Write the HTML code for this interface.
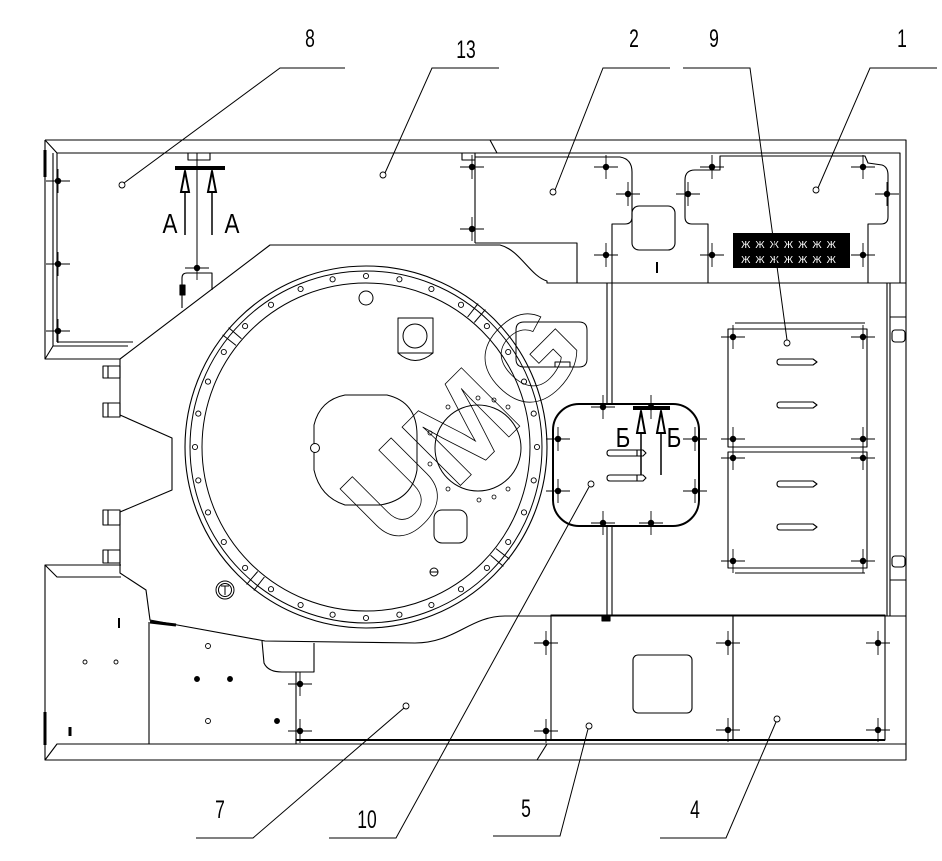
<!DOCTYPE html>
<html><head><meta charset="utf-8"><style>
html,body{margin:0;padding:0;background:#fff;}
svg{display:block;}
text{font-family:"Liberation Sans",sans-serif;fill:#000;}
</style></head><body>
<svg width="942" height="861" viewBox="0 0 942 861" xmlns="http://www.w3.org/2000/svg">
<defs>
<g id="b"><line x1="-12" y1="0" x2="12" y2="0" stroke="#000" stroke-width="0.9"/><line x1="0" y1="-12" x2="0" y2="12" stroke="#000" stroke-width="0.9"/><circle r="3.2" fill="#000"/></g>
</defs>
<rect width="942" height="861" fill="#fff"/>
<g stroke="#000" fill="none" stroke-width="1.1" stroke-linejoin="round">
<!-- outer frame -->
<path d="M45,140 L906,140 L906,760 L45,760 L45,565 L121,565"/>
<path d="M45,140 L45,359 L120,359"/>
<path d="M45,140 L57,153 L900,153 L900,283"/>
<line x1="53" y1="153" x2="53" y2="346"/>
<line x1="57" y1="153" x2="57" y2="342"/>
<path d="M57,342 L133,342"/><path d="M53,346 L128,346"/>
<path d="M45,359 L53,346"/>
<line x1="45" y1="150" x2="45" y2="177" stroke-width="3"/>
<line x1="490" y1="140" x2="497" y2="153"/>
<!-- lower left box -->
<path d="M45,565 L57,577 L121,577"/>
<path d="M45,760 L57,744 L906,744"/>
<line x1="45" y1="712" x2="45" y2="745" stroke-width="3"/>
<line x1="149" y1="622" x2="149" y2="744"/>
<line x1="547" y1="744" x2="537" y2="760"/>
<!-- body -->
<path d="M120,359 L120,415 L172,438 L172,490 L120,512 L120,573 L146,590 L150,620 L265,641 L415,643 C455,643 470,616 505,616 L906,616"/>
<path d="M120,359 L270,245 L500,245 C520,250 530,276 547,281 L547,283 L906,283"/>
<line x1="150" y1="622" x2="176" y2="625" stroke-width="3"/>
<!-- lugs -->
<rect x="103" y="366" width="17" height="12"/><line x1="108" y1="366" x2="108" y2="378"/>
<rect x="103" y="403" width="17" height="14"/><line x1="108" y1="403" x2="108" y2="417"/>
<rect x="103" y="510" width="17" height="15"/><line x1="108" y1="510" x2="108" y2="525"/>
<rect x="103" y="550" width="17" height="13"/><line x1="108" y1="550" x2="108" y2="563"/>
<!-- panel 13 / 2 -->
<line x1="475" y1="153" x2="475" y2="243"/>
<path d="M475,243 L577,243 L577,283"/>
<path d="M462,153 L462,160 L475,160"/>
<rect x="188" y="153" width="22" height="7"/>
<path d="M182,308 L182,278 Q182,273 187,273 L212,273 L212,290"/>
<line x1="197" y1="153" x2="197" y2="268" stroke-width="1"/>
<rect x="180" y="285" width="5" height="10" fill="#000"/>
<path d="M475,157 L620,157 Q632,159 632,172 L632,217 Q632,224 625,224 L612,224 L612,283"/>
<rect x="632" y="206" width="43" height="44" rx="7"/>
<line x1="657" y1="262" x2="657" y2="273" stroke-width="2"/>
<path d="M708,283 L708,224 L692,224 Q685,224 685,217 L685,180 Q685,170 695,170 L720,170 L720,156 L865,156 L868,163 L882,165 Q888,167 888,175 L888,217 Q888,224 881,224 L868,224 L868,283"/>
<!-- right frame -->
<line x1="887" y1="283" x2="887" y2="616"/>
<line x1="890" y1="283" x2="890" y2="616"/>
<rect x="892" y="330" width="13" height="12" rx="3"/>
<rect x="892" y="556" width="13" height="11" rx="3"/>
<line x1="890" y1="317" x2="906" y2="317" stroke-width="1"/>
<line x1="890" y1="580" x2="906" y2="580" stroke-width="1"/>
<!-- vertical double -->
<line x1="607" y1="283" x2="607" y2="404"/><line x1="612" y1="283" x2="612" y2="404"/>
<line x1="607" y1="526" x2="607" y2="616"/><line x1="612" y1="526" x2="612" y2="616"/>
<!-- cover part near circle -->
<path d="M524,322 L579,322 Q587,322 587,330 L587,359 Q587,367 579,367 L524,367 Q516,367 516,359 L516,330 Q516,322 524,322 Z" stroke-width="1"/>
<rect x="555" y="362" width="15" height="5" stroke-width="1"/>
<!-- panel 9 -->
<line x1="735" y1="323" x2="865" y2="323"/>
<rect x="728" y="329" width="139" height="118"/>
<rect x="728" y="452" width="139" height="116"/>
<line x1="735" y1="573" x2="865" y2="573"/>
<path d="M780,359 L813,359 L817,362 L813,365 L780,365 Q777,365 777,362 Q777,359 780,359 Z"/>
<path d="M780,402 L813,402 L817,405 L813,408 L780,408 Q777,408 777,405 Q777,402 780,402 Z"/>
<path d="M780,481 L813,481 L817,484 L813,487 L780,487 Q777,487 777,484 Q777,481 780,481 Z"/>
<path d="M780,524 L813,524 L817,527 L813,530 L780,530 Q777,530 777,527 Q777,524 780,524 Z"/>
<!-- panel 10 -->
<rect x="553" y="404" width="146" height="122" rx="26" stroke-width="2"/>
<path d="M610,450 L643,450 L646,453 L643,456 L610,456 Q607,456 607,453 Q607,450 610,450 Z"/>
<path d="M610,475 L643,475 L646,478 L643,481 L610,481 Q607,481 607,478 Q607,475 610,475 Z"/>
<line x1="637" y1="450" x2="637" y2="456"/><line x1="637" y1="475" x2="637" y2="481"/>
<!-- lower panels -->
<rect x="551" y="615" width="182" height="125"/>
<rect x="733" y="615" width="152" height="125"/>
<rect x="633" y="655" width="59" height="58" rx="5"/>
<line x1="296" y1="672" x2="296" y2="744"/>
<line x1="296" y1="740" x2="885" y2="740" stroke-width="2"/>
<path d="M262,641 L264,663 Q268,672 282,672 L314,672 L314,643"/>
<rect x="602" y="615" width="8" height="6" fill="#000"/>
<!-- circle -->
<circle cx="366" cy="447" r="181"/>
<circle cx="366" cy="447" r="176" stroke-width="1"/>
<circle cx="366" cy="447" r="164" stroke-width="1"/>
<g stroke-width="1">
<line x1="474.3" y1="322.5" x2="485.4" y2="309.6"/><line x1="467.6" y1="317" x2="478.1" y2="303.6"/>
<line x1="241.5" y1="338.7" x2="228.6" y2="327.6"/><line x1="236" y1="345.4" x2="222.6" y2="334.9"/>
<line x1="490.5" y1="555.3" x2="503.4" y2="566.4"/><line x1="496" y1="548.6" x2="509.4" y2="559.1"/>
<line x1="257.7" y1="571.5" x2="246.6" y2="584.4"/><line x1="264.4" y1="577" x2="253.9" y2="590.4"/>
</g>
<g stroke-width="0.9" fill="#fff">
<circle cx="366" cy="276" r="2.6"/><circle cx="332.6" cy="279.3" r="2.6"/><circle cx="300.6" cy="289" r="2.6"/><circle cx="271" cy="304.8" r="2.6"/>
<circle cx="245.1" cy="326.1" r="2.6"/><circle cx="223.8" cy="352" r="2.6"/><circle cx="208" cy="381.6" r="2.6"/><circle cx="198.3" cy="413.6" r="2.6"/>
<circle cx="195" cy="447" r="2.6"/><circle cx="198.3" cy="480.4" r="2.6"/><circle cx="208" cy="512.4" r="2.6"/><circle cx="223.8" cy="542" r="2.6"/>
<circle cx="245.1" cy="567.9" r="2.6"/><circle cx="271" cy="589.2" r="2.6"/><circle cx="300.6" cy="605" r="2.6"/><circle cx="332.6" cy="614.7" r="2.6"/>
<circle cx="366" cy="618" r="2.6"/><circle cx="399.4" cy="614.7" r="2.6"/><circle cx="431.4" cy="605" r="2.6"/><circle cx="461" cy="589.2" r="2.6"/>
<circle cx="486.9" cy="567.9" r="2.6"/><circle cx="508.2" cy="542" r="2.6"/><circle cx="524" cy="512.4" r="2.6"/><circle cx="533.7" cy="480.4" r="2.6"/>
<circle cx="537" cy="447" r="2.6"/><circle cx="533.7" cy="413.6" r="2.6"/><circle cx="524" cy="381.6" r="2.6"/><circle cx="508.2" cy="352" r="2.6"/>
<circle cx="486.9" cy="326.1" r="2.6"/><circle cx="461" cy="304.8" r="2.6"/><circle cx="431.4" cy="289" r="2.6"/><circle cx="399.4" cy="279.3" r="2.6"/>
</g>
<g stroke-width="1">
<path d="M345,395 L387,395 Q417,402 417,435 L417,470 Q412,500 380,505 L345,505 Q320,497 314,470 L314,425 Q320,400 345,395 Z"/>
<circle cx="315" cy="448" r="4.5" fill="#fff"/>
<circle cx="478" cy="448" r="43"/>
<circle cx="366" cy="298" r="7"/>
<rect x="398" y="318" width="35" height="35"/>
<circle cx="415" cy="336" r="12"/>
<path d="M398,353 Q415,368 433,353"/>
<rect x="434" y="510" width="33" height="33" rx="8"/>
<circle cx="434" cy="572" r="4"/><line x1="430" y1="572" x2="438" y2="572"/>
<circle cx="225" cy="590" r="9"/><circle cx="225" cy="590" r="6.5"/>
<path d="M221,586 L229,586 M225,586 L225,595"/>
</g>
<g stroke-width="0.8" fill="#fff">
<circle cx="448" cy="407" r="2"/><circle cx="478" cy="398" r="2"/><circle cx="494" cy="400" r="2"/><circle cx="508" cy="407" r="2"/>
<circle cx="430" cy="433" r="2"/><circle cx="430" cy="464" r="2"/><circle cx="448" cy="489" r="2"/><circle cx="479" cy="500" r="2"/>
<circle cx="494" cy="497" r="2"/><circle cx="508" cy="489" r="2"/>
</g>
<!-- lower left marks -->
<g stroke-width="0.9">
<circle cx="208" cy="646" r="2.5"/><circle cx="85" cy="662" r="2"/><circle cx="116" cy="662" r="2"/><circle cx="208" cy="721" r="2.5"/>
<circle cx="197" cy="679" r="2.5" fill="#000"/><circle cx="230" cy="679" r="2.5" fill="#000"/><circle cx="277" cy="721" r="2.5" fill="#000"/>
</g>
<line x1="119" y1="618" x2="119" y2="628" stroke-width="2"/>
<line x1="70" y1="727" x2="70" y2="736" stroke-width="3"/>
</g>
<!-- watermark -->
<text transform="translate(462,423) rotate(-45)" x="0" y="43" text-anchor="middle" font-size="120" font-weight="bold" stroke="#000" stroke-width="0.8" style="fill:none">UMG</text>
<!-- nameplate -->
<rect x="733" y="233" width="117" height="35" fill="#000"/>
<text x="791" y="248" text-anchor="middle" font-size="10" style="fill:#fff" letter-spacing="5">ЖЖЖЖЖЖЖ</text>
<text x="791" y="263" text-anchor="middle" font-size="10" style="fill:#fff" letter-spacing="5">ЖЖЖЖЖЖЖ</text>
<!-- bolts -->
<use href="#b" x="58" y="181"/><use href="#b" x="58" y="264"/><use href="#b" x="58" y="331"/><use href="#b" x="197" y="268"/>
<use href="#b" x="472" y="167"/><use href="#b" x="472" y="229"/>
<use href="#b" x="606" y="167"/><use href="#b" x="628" y="194"/><use href="#b" x="606" y="255"/>
<use href="#b" x="712" y="167"/><use href="#b" x="863" y="167"/><use href="#b" x="688" y="194"/><use href="#b" x="887" y="194"/><use href="#b" x="712" y="255"/><use href="#b" x="863" y="255"/>
<use href="#b" x="733" y="337"/><use href="#b" x="863" y="337"/><use href="#b" x="733" y="439"/><use href="#b" x="863" y="439"/>
<use href="#b" x="733" y="458"/><use href="#b" x="863" y="458"/><use href="#b" x="733" y="561"/><use href="#b" x="863" y="561"/>
<use href="#b" x="603" y="407"/><use href="#b" x="651" y="407"/><use href="#b" x="603" y="523"/><use href="#b" x="651" y="523"/>
<use href="#b" x="558" y="439"/><use href="#b" x="558" y="491"/><use href="#b" x="695" y="439"/><use href="#b" x="695" y="491"/>
<use href="#b" x="300" y="684"/><use href="#b" x="300" y="731"/><use href="#b" x="546" y="643"/><use href="#b" x="546" y="731"/>
<use href="#b" x="728" y="643"/><use href="#b" x="728" y="730"/><use href="#b" x="878" y="643"/><use href="#b" x="878" y="730"/>
<!-- section A -->
<g stroke="#000">
<line x1="175" y1="168" x2="225" y2="168" stroke-width="4"/>
<line x1="185" y1="168" x2="185" y2="235" stroke-width="1.5"/>
<line x1="212" y1="168" x2="212" y2="235" stroke-width="1.5"/>
<polygon points="185,171 181,192 189,192" fill="#fff" stroke-width="2"/>
<polygon points="212,171 208,192 216,192" fill="#fff" stroke-width="2"/>
<line x1="633" y1="408" x2="670" y2="408" stroke-width="4"/>
<line x1="641" y1="408" x2="641" y2="475" stroke-width="1.5"/>
<line x1="661" y1="408" x2="661" y2="475" stroke-width="1.5"/>
<polygon points="641,411 637,433 645,433" fill="#fff" stroke-width="2"/>
<polygon points="661,411 657,433 665,433" fill="#fff" stroke-width="2"/>
</g>
<text transform="translate(170,233) scale(0.8,1)" text-anchor="middle" font-size="28">A</text>
<text transform="translate(232,233) scale(0.8,1)" text-anchor="middle" font-size="28">A</text>
<text transform="translate(623,447) scale(0.8,1)" text-anchor="middle" font-size="28">Б</text>
<text transform="translate(674,447) scale(0.8,1)" text-anchor="middle" font-size="28">Б</text>
<!-- leaders -->
<g stroke="#000" stroke-width="1" fill="none">
<path d="M345,68 L280,68 L124,183"/>
<path d="M499,68 L432,68 L385,173"/>
<path d="M670,68 L603,68 L555,190"/>
<path d="M683,68 L750,68 L787,340"/>
<path d="M937,68 L870,68 L818,188"/>
<path d="M196,838 L253,838 L404,708"/>
<path d="M329,838 L396,838 L589,487"/>
<path d="M493,836 L560,836 L588,729"/>
<path d="M660,838 L726,838 L776,722"/>
</g>
<g stroke="#000" stroke-width="0.9" fill="#fff">
<circle cx="122" cy="185" r="3"/><circle cx="383" cy="175" r="3"/><circle cx="553" cy="192" r="3"/><circle cx="787" cy="343" r="3"/><circle cx="816" cy="190" r="3"/>
<circle cx="406" cy="706" r="3"/><circle cx="591" cy="484" r="3"/><circle cx="589" cy="726" r="3"/><circle cx="777" cy="719" r="3"/>
</g>
<!-- labels -->
<g font-size="25" text-anchor="middle">
<text transform="translate(310,47) scale(0.7,1)">8</text>
<text transform="translate(466,58) scale(0.7,1)">13</text>
<text transform="translate(634,47) scale(0.7,1)">2</text>
<text transform="translate(714,47) scale(0.7,1)">9</text>
<text transform="translate(902,47) scale(0.7,1)">1</text>
<text transform="translate(220,818) scale(0.7,1)">7</text>
<text transform="translate(367,828) scale(0.7,1)">10</text>
<text transform="translate(526,817) scale(0.7,1)">5</text>
<text transform="translate(695,818) scale(0.7,1)">4</text>
</g>
</svg>
</body></html>
